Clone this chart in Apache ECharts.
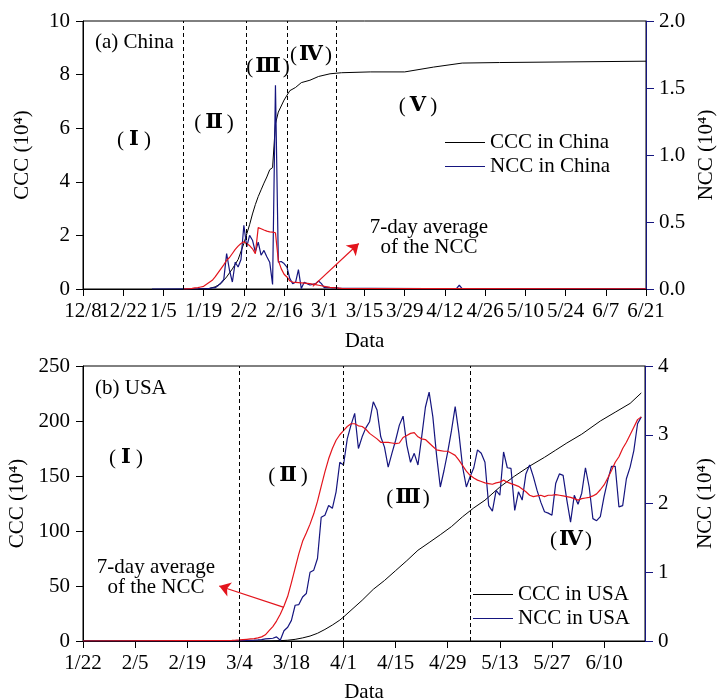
<!DOCTYPE html>
<html lang="en">
<head>
<meta charset="UTF-8">
<title>CCC and NCC - China and USA</title>
<script src="https://cdn.jsdelivr.net/npm/echarts@6.0.0/dist/echarts.min.js"></script>
<style>
    html, body { margin: 0; padding: 0; background: #ffffff; }
    #chart { width: 717px; height: 699px; }
</style>
</head>
<body>
<div id="chart"></div>
<script>
    // x values are day offsets from the first date of each panel
    const chinaStart = Date.UTC(2019, 11, 8);
    const usaStart = Date.UTC(2020, 0, 22);

    // ---- (a) China ----
    const chinaPhaseDays = [35, 57, 71, 88];
    const chinaCccDays = [40, 44, 46, 48, 50, 52, 54, 56, 58, 59, 60, 61, 62, 63, 64, 65, 66, 67, 68, 70, 72, 74, 76, 79, 82, 86, 90, 100, 112, 122, 132, 145, 196];
    const chinaCccVals = [0, 0.02, 0.08, 0.2, 0.45, 0.75, 1.1, 1.7, 2.4, 2.8, 3.15, 3.45, 3.7, 3.95, 4.18, 4.45, 4.53, 6.17, 6.6, 7.05, 7.4, 7.52, 7.7, 7.79, 7.93, 8.03, 8.07, 8.1, 8.1, 8.28, 8.43, 8.45, 8.5];
    const chinaNccHeadDays = [24, 39];
    const chinaNccHeadVals = [0, 0.001];
    const chinaNccFirstDay = 40;
    const chinaNcc = [
        0.001, 0.002, 0.002, 0.003, 0.005, 0.008, 0.01, 0.025, 0.045, 0.07,
        0.264, 0.14, 0.052, 0.2, 0.164, 0.22, 0.476, 0.314, 0.4, 0.364,
        0.276, 0.35, 0.252, 0.288, 0.24, 0.2, 0.034, 1.52, 0.2, 0.205,
        0.19, 0.164, 0.078, 0.04, 0.05, 0.144, 0.003, 0.05, 0.04, 0.03,
        0.034, 0.04, 0.06, 0.04, 0.01, 0.012, 0.01, 0.008, 0.01, 0.006,
        0.005
    ];
    const chinaNccTailDays = [100, 120, 130, 131, 132, 150, 196];
    const chinaNccTailVals = [0.004, 0.003, 0.003, 0.028, 0.003, 0.002, 0.002];
    const chinaAvgFirstDay = 35;
    const chinaAvg = [
        0, 0.001, 0.002, 0.004, 0.008, 0.01, 0.015, 0.02, 0.035, 0.05,
        0.065, 0.09, 0.12, 0.15, 0.18, 0.215, 0.235, 0.265, 0.295, 0.32,
        0.34, 0.352, 0.338, 0.324, 0.3, 0.264, 0.458, 0.45, 0.44, 0.432,
        0.426, 0.424, 0.42, 0.214, 0.152, 0.11, 0.09, 0.06, 0.052, 0.05,
        0.048, 0.046, 0.044, 0.042, 0.04, 0.036, 0.032, 0.028, 0.024, 0.02,
        0.016, 0.012, 0.01, 0.008, 0.006, 0.004
    ];
    const chinaAvgTailDays = [120, 196];
    const chinaAvgTailVals = [0.003, 0.002];
    // arrow from the red curve to its caption, in [day, NCC] units
    const chinaArrow = [[80, 0.02], [96, 0.34]];

    // ---- (b) USA ----
    const usaPhaseDays = [42, 70, 104];
    const usaCccDays = [0, 45, 50, 53, 55, 57, 59, 61, 63, 65, 67, 69, 70, 72, 75, 78, 81, 84, 87, 90, 93, 96, 99, 102, 105, 108, 112, 116, 120, 124, 127, 130, 134, 139, 143, 147, 150];
    const usaCccVals = [0, 0.02, 0.1, 0.3, 0.7, 1.5, 2.8, 4.5, 7, 10.5, 14.5, 19, 21.8, 27.9, 37, 47, 55, 64, 73, 82.5, 89.5, 96.6, 104, 113, 121, 128, 140, 150, 159, 167, 173.5, 180, 188, 200, 208, 216, 225.5];
    const usaHeadDays = [0];
    const usaHeadVals = [0];
    const usaFirstDay = 40;
    const usaNcc = [
        0, 0, 0.005, 0.005, 0.008, 0.01, 0.012, 0.015, 0.02, 0.03,
        0.035, 0.04, 0.06, 0.01, 0.15, 0.2, 0.3, 0.52, 0.53, 0.64,
        0.69, 1.0, 1.03, 1.2, 1.8, 1.83, 1.97, 1.93, 2.17, 2.6,
        2.56, 2.94, 3.14, 3.31, 2.8, 2.97, 3.1, 3.19, 3.48, 3.36,
        2.97, 2.82, 2.53, 2.73, 2.92, 3.14, 3.27, 2.85, 2.6, 2.73,
        2.56, 2.97, 3.4, 3.62, 3.26, 2.7, 2.24, 2.48, 2.75, 3.06,
        3.41, 3.02, 2.53, 2.24, 2.39, 2.52, 2.78, 2.73, 2.6, 1.97,
        1.89, 2.19, 2.12, 2.75, 2.52, 2.51, 1.9, 2.17, 2.05, 2.43,
        2.56, 2.39, 2.19, 2.02, 1.88, 1.86, 1.83, 2.29, 2.43, 2.41,
        2.05, 1.73, 2.12, 1.99, 2.15, 2.52, 2.24, 1.78, 1.75, 1.81,
        2.1, 2.34, 2.54, 2.54, 1.95, 1.97, 2.36, 2.53, 2.77, 3.16,
        3.26
    ];
    const usaAvg = [
        0.01, 0.012, 0.015, 0.02, 0.025, 0.03, 0.035, 0.045, 0.06, 0.09,
        0.15, 0.21, 0.29, 0.39, 0.51, 0.65, 0.85, 1.06, 1.27, 1.45,
        1.57, 1.7, 1.85, 2.03, 2.25, 2.46, 2.65, 2.8, 2.92, 3.0,
        3.06, 3.12, 3.16, 3.16, 3.13, 3.12, 3.08, 3.02, 2.98, 2.94,
        2.89, 2.89, 2.89, 2.88, 2.87, 2.88, 2.96, 2.99, 3.02, 3.03,
        2.97, 2.94, 2.93, 2.88, 2.83, 2.78, 2.77, 2.76, 2.76, 2.73,
        2.7, 2.63, 2.55, 2.47, 2.41, 2.37, 2.34, 2.32, 2.3, 2.29,
        2.28, 2.3, 2.31, 2.34, 2.31, 2.29, 2.27, 2.25, 2.21, 2.17,
        2.12, 2.1, 2.11, 2.12, 2.1, 2.12, 2.12, 2.13, 2.12, 2.11,
        2.1, 2.09, 2.07, 2.05, 2.07, 2.08, 2.09, 2.11, 2.14, 2.2,
        2.27, 2.37, 2.48, 2.6, 2.68, 2.8, 2.89, 3.0, 3.11, 3.22,
        3.26
    ];
    const usaArrow = [[54, 0.49], [36.6, 0.8]];

    // ---- helpers ----
    const pairs = (days, vals) => days.map((d, i) => [d, vals[i]]);
    const daily = (first, vals) => vals.map((v, i) => [first + i, v]);
    const dateLabel = (start, v) => {
        if (v % 14 !== 0) return '';
        const dt = new Date(start + v * 86400000);
        return (dt.getUTCMonth() + 1) + '/' + dt.getUTCDate();
    };
    const every14 = max => {
        const out = [];
        for (let v = 0; v <= max; v += 14) out.push(v);
        return out;
    };

    const SERIF = '"Liberation Serif", "DejaVu Serif", serif';
    const NAVY = '#15157f';
    const RED = '#e3141c';
    const txt = { fontFamily: SERIF, fontSize: 21, color: '#000' };

    function phaseLines(days) {
        return {
            silent: true,
            symbol: ['none', 'none'],
            label: { show: false },
            lineStyle: { color: '#000', type: [4, 3], width: 1 },
            data: days.map(d => ({ xAxis: d }))
        };
    }
    function arrow(pts) {
        return {
            silent: true,
            symbol: ['none', 'arrow'],
            symbolSize: 11,
            label: { show: false },
            lineStyle: { color: RED, type: 'solid', width: 1.2 },
            data: [[{ coord: pts[0] }, { coord: pts[1] }]]
        };
    }
    function xAxis(grid, start, max, gap, labelValues) {
        return {
            type: 'value', gridIndex: grid, min: 0, max: max, interval: 14, position: 'bottom',
            name: 'Data', nameLocation: 'middle', nameGap: gap, nameTextStyle: txt,
            axisLine: { onZero: false, lineStyle: { color: '#000', width: 1 } },
            axisTick: { inside: false, length: 7, lineStyle: { color: '#000' }, customValues: every14(max) },
            axisLabel: Object.assign({
                margin: 12, hideOverlap: false,
                formatter: v => dateLabel(start, v), customValues: labelValues
            }, txt),
            splitLine: { show: false }
        };
    }
    // label-only twin of an x axis, used for the first date that sits right against the next one
    function xLabelOnly(grid, start, max, values) {
        return {
            type: 'value', gridIndex: grid, min: 0, max: max, interval: 14, position: 'bottom',
            axisLine: { show: false, onZero: false }, axisTick: { show: false }, splitLine: { show: false },
            axisLabel: Object.assign({
                margin: 12, formatter: v => dateLabel(start, v), customValues: values
            }, txt)
        };
    }
    function yLeft(grid, max, step, name) {
        return {
            type: 'value', gridIndex: grid, position: 'left', min: 0, max: max, interval: step,
            name: name, nameLocation: 'middle', nameGap: 50, nameTextStyle: txt,
            axisLine: { show: true, onZero: false, lineStyle: { color: '#000' } },
            axisTick: { show: true, inside: false, length: 7, lineStyle: { color: '#000' } },
            axisLabel: Object.assign({ margin: 13 }, txt),
            splitLine: { show: false }
        };
    }
    function yRight(grid, max, step, name, digits) {
        return {
            type: 'value', gridIndex: grid, position: 'right', min: 0, max: max, interval: step,
            name: name, nameLocation: 'middle', nameGap: 50, nameTextStyle: txt,
            axisLine: { show: true, onZero: false, lineStyle: { color: NAVY } },
            axisTick: { show: true, inside: false, length: 8, lineStyle: { color: NAVY } },
            axisLabel: Object.assign({ margin: 13, formatter: v => v.toFixed(digits) }, txt),
            splitLine: { show: false }
        };
    }
    function line(name, x, y, data, color, width, extra) {
        return Object.assign({
            name: name, type: 'line', xAxisIndex: x, yAxisIndex: y, data: data,
            symbol: 'none', showSymbol: false, smooth: false,
            lineStyle: { color: color, width: width }, itemStyle: { color: color }
        }, extra || {});
    }
    function label(x, y, text, align) {
        return {
            type: 'text', x: x, y: y, silent: true,
            style: {
                text: text, font: '21px ' + SERIF, fill: '#000',
                align: align || 'center', verticalAlign: 'middle',
                textAlign: align || 'center', textVerticalAlign: 'middle', lineHeight: 20
            }
        };
    }
    // phase numeral such as (Ⅱ), with a little room inside the brackets
    function phase(x, y, numeral, pad) {
        return {
            type: 'text', x: x, y: y, silent: true,
            style: {
                text: '({n|' + numeral + '})', font: '21px ' + SERIF, fill: '#000',
                align: 'center', verticalAlign: 'middle',
                rich: { n: { fontFamily: SERIF, fontSize: 21, fontWeight: 'bold', padding: [0, pad] } }
            }
        };
    }

    const legendBase = {
        orient: 'vertical', icon: 'rect', itemWidth: 40, itemHeight: 1,
        textStyle: txt, selectedMode: false
    };

    const chinaTicks = every14(196);
    const chart = echarts.init(document.getElementById('chart'), null, { renderer: 'canvas' });
    chart.setOption({
        animation: false,
        backgroundColor: '#fff',
        grid: [
            { left: 83, top: 21, right: 71, height: 268, show: true, borderColor: '#000', borderWidth: 1, outerBoundsMode: 'none' },
            { left: 83, top: 366, right: 72, height: 275, show: true, borderColor: '#000', borderWidth: 1, outerBoundsMode: 'none' }
        ],
        xAxis: [
            xAxis(0, chinaStart, 196, 42, chinaTicks.slice(1)),
            xAxis(1, usaStart, 151, 41, every14(151)),
            xLabelOnly(0, chinaStart, 196, chinaTicks.slice(0, 1))
        ],
        yAxis: [
            yLeft(0, 10, 2, 'CCC (10⁴)'),
            yRight(0, 2, 0.5, 'NCC (10⁴)', 1),
            yLeft(1, 250, 50, 'CCC (10⁴)'),
            yRight(1, 4, 1, 'NCC (10⁴)', 0)
        ],
        legend: [
            Object.assign({ data: ['CCC in China', 'NCC in China'], left: 440, top: 127, itemGap: 3 }, legendBase),
            Object.assign({ data: ['CCC in USA', 'NCC in USA'], left: 468, top: 579, itemGap: 3 }, legendBase)
        ],
        series: [
            line('CCC in China', 0, 0, pairs(chinaCccDays, chinaCccVals), '#000', 1,
                { markLine: phaseLines(chinaPhaseDays) }),
            line('NCC in China', 0, 1,
                pairs(chinaNccHeadDays, chinaNccHeadVals)
                    .concat(daily(chinaNccFirstDay, chinaNcc))
                    .concat(pairs(chinaNccTailDays, chinaNccTailVals)), NAVY, 1.2),
            line('7-day average of the NCC (China)', 0, 1,
                daily(chinaAvgFirstDay, chinaAvg).concat(pairs(chinaAvgTailDays, chinaAvgTailVals)), RED, 1.2,
                { markLine: arrow(chinaArrow) }),
            line('CCC in USA', 1, 2, pairs(usaCccDays, usaCccVals), '#000', 1,
                { markLine: phaseLines(usaPhaseDays) }),
            line('NCC in USA', 1, 3,
                pairs(usaHeadDays, usaHeadVals).concat(daily(usaFirstDay, usaNcc)), NAVY, 1.2),
            line('7-day average of the NCC (USA)', 1, 3,
                pairs(usaHeadDays, usaHeadVals).concat(daily(usaFirstDay, usaAvg)), RED, 1.2,
                { markLine: arrow(usaArrow) })
        ],
        graphic: [
            label(95, 42, '(a) China', 'left'),
            phase(134, 140, 'Ⅰ', 5),
            phase(214, 123, 'Ⅱ', 4),
            phase(268, 67, 'Ⅲ', 2),
            phase(311, 55, 'Ⅳ', 2),
            phase(418, 106, 'Ⅴ', 4),
            label(429, 237, '7-day average\nof the NCC'),
            label(95, 388, '(b) USA', 'left'),
            phase(126, 458, 'Ⅰ', 5),
            phase(288, 476, 'Ⅱ', 4),
            phase(408, 498, 'Ⅲ', 2),
            phase(571, 540, 'Ⅳ', 2),
            label(156, 577, '7-day average\nof the NCC')
        ]
    });

    window.addEventListener('resize', () => chart.resize());
</script>
</body>
</html>
